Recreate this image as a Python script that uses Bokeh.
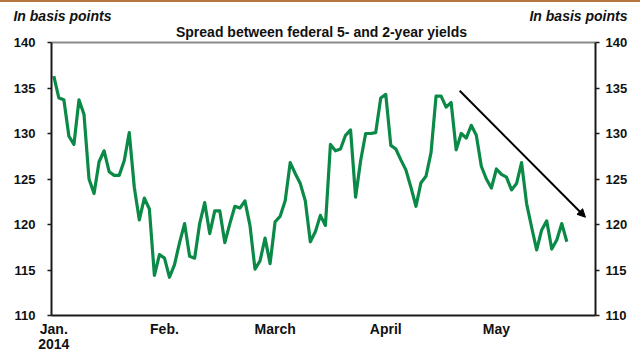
from bokeh.plotting import figure
from bokeh.models import (Range1d, LinearAxis, FixedTicker, Arrow, NormalHead,
                          ColumnDataSource, Div)
from bokeh.layouts import column
from bokeh.embed import file_html
from bokeh.resources import INLINE

# ---- data (daily spread, basis points, Jan 2 2014 onward) ----
spread = [136.3, 133.9, 133.7, 129.7, 128.8, 133.7, 132.1, 125.0, 123.4, 126.9,
          128.1, 125.8, 125.4, 125.4, 127.0, 130.1, 124.1, 120.5, 122.9, 121.7,
          114.4, 116.7, 116.3, 114.2, 115.6, 118.0, 120.1, 116.5, 116.3, 120.1,
          122.4, 119.0, 121.5, 121.5, 118.0, 120.1, 122.0, 121.8, 122.6, 119.9,
          115.1, 116.0, 118.5, 115.7, 120.3, 120.9, 122.6, 126.8, 125.6, 124.5,
          122.6, 118.1, 119.2, 121.0, 119.9, 128.8, 128.1, 128.3, 129.8, 130.4,
          123.0, 127.0, 130.0, 130.0, 130.1, 133.9, 134.3, 128.7, 128.3, 127.1,
          126.0, 124.1, 122.0, 124.6, 125.3, 127.9, 134.1, 134.1, 132.9, 133.4,
          128.2, 130.0, 129.5, 130.9, 129.8, 126.4, 125.0, 124.0, 126.1, 125.5,
          125.2, 123.8, 124.5, 126.8, 122.3, 119.7, 117.2, 119.4, 120.4, 117.3,
          118.3, 120.1, 118.1]
day_index = list(range(len(spread)))

month_ticks = [0, 22, 44, 66, 88]
month_labels = ["Jan.\n2014", "Feb.", "March", "April", "May"]
y_ticks = [110, 115, 120, 125, 130, 135, 140]

trend_start = (80.7, 134.7)
trend_end = (105.7, 120.8)

title_text = "Spread between federal 5- and 2-year yields"
unit_text = "In basis points"

GREEN = "#0b8a47"
FONT = "Liberation Sans"
INK = "#111111"

p = figure(width=640, height=352, output_backend="svg", toolbar_location=None,
           x_range=Range1d(-0.46, 107.7), y_range=Range1d(110, 140),
           min_border_left=51, min_border_right=45, min_border_top=40,
           min_border_bottom=39, background_fill_color="white",
           border_fill_color="white")
p.outline_line_color = None
p.xgrid.visible = False
p.ygrid.visible = False
# header text positions in page-pixel units across the frame
p.extra_x_ranges = {"px": Range1d(51, 595)}

src = ColumnDataSource(dict(x=day_index, y=spread))
p.line("x", "y", source=src, line_color=GREEN, line_width=3.2, line_join="round")


def no_ticks(ax):
    ax.major_tick_out = 0
    ax.major_tick_in = 0
    ax.minor_tick_out = 0
    ax.minor_tick_in = 0


# bottom axis
xa = p.xaxis[0]
xa.ticker = FixedTicker(ticks=month_ticks)
xa.major_label_overrides = {t: lab for t, lab in zip(month_ticks, month_labels)}
no_ticks(xa)
xa.axis_line_color = "#1a1a1a"
xa.axis_line_width = 2
xa.major_label_text_font = FONT
xa.major_label_text_font_style = "bold"
xa.major_label_text_font_size = "14px"
xa.major_label_text_color = INK
xa.major_label_text_line_height = 0.95
xa.major_label_standoff = 5

# left and right axes
ya = p.yaxis[0]
ra = LinearAxis()
p.add_layout(ra, "right")
for ax, so in ((ya, 12), (ra, 6)):
    ax.ticker = FixedTicker(ticks=y_ticks)
    no_ticks(ax)
    ax.major_tick_out = 4
    ax.axis_line_color = "#1a1a1a"
    ax.axis_line_width = 2
    ax.major_tick_line_color = "#1a1a1a"
    ax.major_tick_line_width = 1.5
    ax.major_label_text_font = FONT
    ax.major_label_text_font_style = "bold"
    ax.major_label_text_font_size = "13px"
    ax.major_label_text_color = INK
    ax.major_label_standoff = so

# top frame line (gray) carrying the chart title
ta = LinearAxis(x_range_name="px", ticker=FixedTicker(ticks=[321]),
                major_label_overrides={321: title_text})
no_ticks(ta)
ta.axis_line_color = "#8a8a8a"
ta.axis_line_width = 2
ta.major_label_text_font = FONT
ta.major_label_text_font_style = "bold"
ta.major_label_text_font_size = "14px"
ta.major_label_text_color = INK
ta.major_label_standoff = 3
p.add_layout(ta, "above")

# unit captions, left and right
tb = LinearAxis(x_range_name="px", ticker=FixedTicker(ticks=[62, 578]),
                major_label_overrides={62: unit_text, 578: unit_text})
no_ticks(tb)
tb.axis_line_color = None
tb.major_label_text_font = FONT
tb.major_label_text_font_style = "bold italic"
tb.major_label_text_font_size = "14px"
tb.major_label_text_color = INK
tb.major_label_standoff = -3
p.add_layout(tb, "above")

# trend arrow
p.add_layout(Arrow(x_start=trend_start[0], y_start=trend_start[1],
                   x_end=trend_end[0], y_end=trend_end[1],
                   line_color="black", line_width=2,
                   end=NormalHead(size=8, fill_color="black", line_color="black")))

rule = Div(text="", width=640, height=2, margin=(0, 0, 0, 0),
           styles={"background-color": "#b5773f"})
layout = column(rule, p, spacing=0, margin=(0, 0, 0, 0))

open("out.html", "w").write(file_html(layout, INLINE))
